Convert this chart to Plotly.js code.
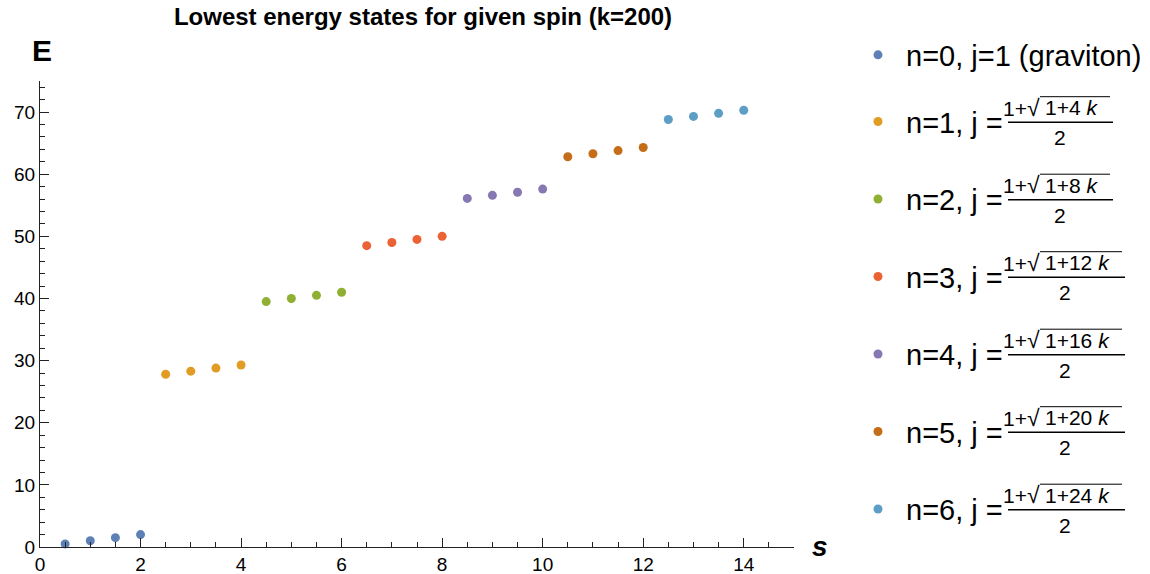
<!DOCTYPE html>
<html>
<head>
<meta charset="utf-8">
<script src="https://cdn.plot.ly/plotly-3.0.1.min.js"></script>
<style>html,body{margin:0;padding:0;background:#fff;}#chart{width:1150px;height:574px;}</style>
</head>
<body>
<div id="chart"></div>
<script>
// ---- data ----
const s0 = [0.5, 1, 1.5, 2];       const E0 = [0.5, 1.0, 1.5, 2.0];
const s1 = [2.5, 3, 3.5, 4];       const E1 = [27.8, 28.3, 28.8, 29.3];
const s2 = [4.5, 5, 5.5, 6];       const E2 = [39.5, 40.0, 40.5, 41.0];
const s3 = [6.5, 7, 7.5, 8];       const E3 = [48.5, 49.0, 49.5, 50.0];
const s4 = [8.5, 9, 9.5, 10];      const E4 = [56.1, 56.6, 57.1, 57.6];
const s5 = [10.5, 11, 11.5, 12];   const E5 = [62.8, 63.3, 63.8, 64.3];
const s6 = [12.5, 13, 13.5, 14];   const E6 = [68.8, 69.3, 69.8, 70.3];

const seriesNames = ['n=0, j=1 (graviton)', 'n=1, j =', 'n=2, j =', 'n=3, j =', 'n=4, j =', 'n=5, j =', 'n=6, j ='];
const radicands = [null, '1+4', '1+8', '1+12', '1+16', '1+20', '1+24'];
const colors = ['#5E81B5', '#E19C24', '#8FB032', '#EB6235', '#8778B3', '#C56E1A', '#5D9EC7'];

const xs = [s0, s1, s2, s3, s4, s5, s6];
const ys = [E0, E1, E2, E3, E4, E5, E6];

const FONT = 'Liberation Sans, Arial, Helvetica, sans-serif';

// plot area in pixels
const L = 40, R = 794, T = 81, B = 547, W = 1150, H = 574;
const px = x => (x - L) / (R - L);
const py = y => (B - y) / (B - T);

// legend row centres (pixels)
const rowY = [55, 121.7, 199.2, 276.7, 354.2, 431.7, 509.2];

const traces = [];
const layoutExtra = {};
for (let i = 0; i < 7; i++) {
  const lg = i === 0 ? 'legend' : 'legend' + (i + 1);
  traces.push({
    type: 'scatter', mode: 'markers',
    x: xs[i], y: ys[i], name: seriesNames[i],
    marker: {color: colors[i], size: 9},
    cliponaxis: false,
    legend: lg
  });
  layoutExtra[lg] = {
    x: px(850), xanchor: 'left', xref: 'paper',
    y: py(rowY[i]), yanchor: 'middle', yref: 'paper',
    bgcolor: 'rgba(0,0,0,0)', borderwidth: 0,
    itemwidth: 46,
    font: {family: FONT, size: 29, color: '#000'}
  };
}

const annotations = [
  {text: '<b>E</b>', xref: 'paper', yref: 'paper', x: px(30), y: py(50), xanchor: 'left', yanchor: 'middle',
   showarrow: false, font: {family: FONT, size: 30, color: '#000'}},
  {text: '<b><i>s</i></b>', xref: 'paper', yref: 'paper', x: px(820), y: py(546), xanchor: 'center', yanchor: 'middle',
   showarrow: false, font: {family: FONT, size: 28, color: '#000'}}
];
const shapes = [];
for (let i = 1; i < 7; i++) {
  const yc = rowY[i];
  const two = radicands[i].length > 3;
  const barEnd = two ? 1125 : 1113;
  annotations.push({text: '1+<span style="font-size:23px">\u221A</span>', xref: 'paper', yref: 'paper', x: px(1041), y: py(yc - 14), xanchor: 'right', yanchor: 'middle',
    showarrow: false, borderpad: 0, font: {family: FONT, size: 21, color: '#000'}});
  annotations.push({text: radicands[i] + ' <i>k</i>', xref: 'paper', yref: 'paper', x: px(1044), y: py(yc - 14), xanchor: 'left', yanchor: 'middle',
    showarrow: false, borderpad: 0, font: {family: FONT, size: 21, color: '#000'}});
  annotations.push({text: '2', xref: 'paper', yref: 'paper', x: px(two ? 1065 : 1060), y: py(yc + 16), xanchor: 'center', yanchor: 'middle',
    showarrow: false, borderpad: 0, font: {family: FONT, size: 21, color: '#000'}});
  shapes.push({type: 'line', xref: 'paper', yref: 'paper', x0: px(1008), x1: px(barEnd), y0: py(yc + 0.5), y1: py(yc + 0.5),
    line: {color: '#000', width: 1.5}});
  shapes.push({type: 'line', xref: 'paper', yref: 'paper', x0: px(1040), x1: px(barEnd - 3), y0: py(yc - 25), y1: py(yc - 25),
    line: {color: '#000', width: 1}});
}

const axisCommon = {
  showgrid: false, zeroline: false, showline: true, linecolor: '#222', linewidth: 1,
  ticks: 'inside', ticklen: 9, tickwidth: 1, tickcolor: '#222',
  tickfont: {family: FONT, size: 19, color: '#000'},
  fixedrange: true
};

const layout = Object.assign({
  width: W, height: H,
  paper_bgcolor: '#fff', plot_bgcolor: '#fff',
  margin: {l: L, r: W - R, t: T, b: H - B, pad: 0, autoexpand: false},
  title: {text: 'Lowest energy states for given spin (k=200)', xref: 'container', yref: 'container',
    x: 423 / W, xanchor: 'center', y: 1 - 17 / H, yanchor: 'middle',
    font: {family: FONT, size: 24, weight: 'bold', color: '#000'}},
  xaxis: Object.assign({}, axisCommon, {range: [0, 15], tick0: 0, dtick: 2,
    minor: {dtick: 0.5, tick0: 0, ticks: 'inside', ticklen: 5, tickcolor: '#222', showgrid: false}}),
  yaxis: Object.assign({}, axisCommon, {range: [0, 75], tick0: 0, dtick: 10,
    minor: {dtick: 2, tick0: 0, ticks: 'inside', ticklen: 5, tickcolor: '#222', showgrid: false}}),
  showlegend: true,
  annotations: annotations,
  shapes: shapes
}, layoutExtra);

Plotly.newPlot('chart', traces, layout, {displayModeBar: false, staticPlot: true});
</script>
</body>
</html>
